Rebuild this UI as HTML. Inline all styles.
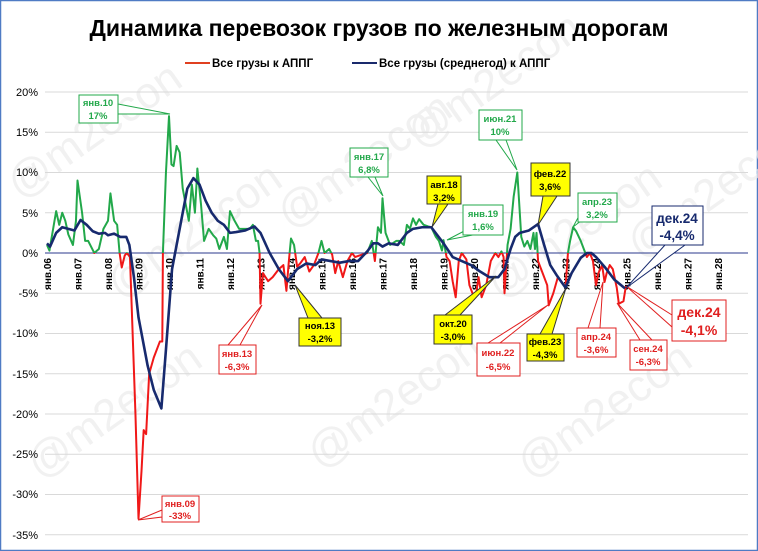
<!DOCTYPE html>
<html><head><meta charset="utf-8"><style>
html,body{margin:0;padding:0;background:#fff}
svg{display:block;font-family:"Liberation Sans",sans-serif}
</style></head><body>
<svg width="758" height="551" viewBox="0 0 758 551" xmlns="http://www.w3.org/2000/svg">
<rect x="0.5" y="0.5" width="757" height="550" fill="#fff" stroke="#4f7bc4" stroke-width="1.5"/>
<g fill="#ececec" font-size="44" opacity="0.75">
<text transform="translate(20,200) rotate(-35)">@m2econ</text>
<text transform="translate(120,300) rotate(-35)">@m2econ</text>
<text transform="translate(290,230) rotate(-35)">@m2econ</text>
<text transform="translate(420,150) rotate(-35)">@m2econ</text>
<text transform="translate(40,480) rotate(-35)">@m2econ</text>
<text transform="translate(320,470) rotate(-35)">@m2econ</text>
<text transform="translate(530,480) rotate(-35)">@m2econ</text>
<text transform="translate(500,300) rotate(-35)">@m2econ</text>
<text transform="translate(640,260) rotate(-35)">@m2econ</text>
</g>
<text x="379" y="36" text-anchor="middle" font-size="23" font-weight="bold" fill="#000">Динамика перевозок грузов по железным дорогам</text>
<line x1="185" y1="63" x2="210" y2="63" stroke="#e04020" stroke-width="2"/>
<text x="212" y="67" font-size="11.5" font-weight="bold">Все грузы к АППГ</text>
<line x1="352" y1="63" x2="377" y2="63" stroke="#1a2a6c" stroke-width="2"/>
<text x="379" y="67" font-size="11.5" font-weight="bold">Все грузы (среднегод) к АППГ</text>
<g stroke="#d9d9d9" stroke-width="1">
<line x1="45" y1="92" x2="748" y2="92"/><line x1="45" y1="132.25" x2="748" y2="132.25"/>
<line x1="45" y1="172.5" x2="748" y2="172.5"/><line x1="45" y1="212.75" x2="748" y2="212.75"/>
<line x1="45" y1="293.25" x2="748" y2="293.25"/><line x1="45" y1="333.5" x2="748" y2="333.5"/>
<line x1="45" y1="373.75" x2="748" y2="373.75"/><line x1="45" y1="414" x2="748" y2="414"/>
<line x1="45" y1="454.25" x2="748" y2="454.25"/><line x1="45" y1="494.5" x2="748" y2="494.5"/>
<line x1="45" y1="534.75" x2="748" y2="534.75"/>
</g>
<g font-size="11" text-anchor="end" fill="#000">
<text x="38" y="96">20%</text><text x="38" y="136">15%</text><text x="38" y="176">10%</text>
<text x="38" y="217">5%</text><text x="38" y="257">0%</text><text x="38" y="297">-5%</text>
<text x="38" y="337">-10%</text><text x="38" y="378">-15%</text><text x="38" y="418">-20%</text>
<text x="38" y="458">-25%</text><text x="38" y="498">-30%</text><text x="38" y="539">-35%</text>
</g>
<line x1="45" y1="253" x2="748" y2="253" stroke="#2b3a8c" stroke-width="1"/>
<g font-size="10" font-weight="bold" fill="#000" text-anchor="end">
<text transform="translate(51,258) rotate(-90)">янв.06</text>
<text transform="translate(81.5,258) rotate(-90)">янв.07</text>
<text transform="translate(112,258) rotate(-90)">янв.08</text>
<text transform="translate(142.5,258) rotate(-90)">янв.09</text>
<text transform="translate(173,258) rotate(-90)">янв.10</text>
<text transform="translate(203.5,258) rotate(-90)">янв.11</text>
<text transform="translate(234,258) rotate(-90)">янв.12</text>
<text transform="translate(264.5,258) rotate(-90)">янв.13</text>
<text transform="translate(295,258) rotate(-90)">янв.14</text>
<text transform="translate(325.5,258) rotate(-90)">янв.15</text>
<text transform="translate(356,258) rotate(-90)">янв.16</text>
<text transform="translate(386.5,258) rotate(-90)">янв.17</text>
<text transform="translate(417,258) rotate(-90)">янв.18</text>
<text transform="translate(447.5,258) rotate(-90)">янв.19</text>
<text transform="translate(478,258) rotate(-90)">янв.20</text>
<text transform="translate(508.5,258) rotate(-90)">янв.21</text>
<text transform="translate(539,258) rotate(-90)">янв.22</text>
<text transform="translate(569.5,258) rotate(-90)">янв.23</text>
<text transform="translate(600,258) rotate(-90)">янв.24</text>
<text transform="translate(630.5,258) rotate(-90)">янв.25</text>
<text transform="translate(661,258) rotate(-90)">янв.26</text>
<text transform="translate(691.5,258) rotate(-90)">янв.27</text>
<text transform="translate(722,258) rotate(-90)">янв.28</text>
</g>
<defs>
<clipPath id="up"><rect x="-1" y="0" width="30" height="30"/></clipPath>
<clipPath id="dn"><rect x="-1" y="-40" width="30" height="40"/></clipPath>
</defs>
<g transform="translate(47,253) scale(30.5,-8.05)" fill="none" stroke-linejoin="round">
<g id="ser">
<polyline id="p" vector-effect="non-scaling-stroke" stroke-width="2" points="0,1 0.08,0.3 0.3,5.2 0.4,3.5 0.5,5 0.6,4 0.7,2.3 0.85,1 0.95,4 1,9 1.15,5 1.25,1.5 1.35,1.5 1.55,0 1.7,0.5 1.85,3 2,4 2.08,7.4 2.2,4 2.3,3.5 2.38,0 2.45,-1.8 2.55,-0.3 2.62,0 2.72,-0.5 2.9,-20 3,-33 3.1,-27 3.17,-22 3.25,-22.5 3.35,-15 3.5,-13 3.7,-11 3.78,-11 3.8,0 3.9,10 4,17 4.08,11 4.15,10.8 4.25,13.3 4.35,12.5 4.45,8 4.55,6 4.65,4 4.75,8.5 4.85,5 4.93,10.5 5.05,6 5.15,1.5 5.3,3 5.45,2.2 5.55,1.8 5.65,0.5 5.8,2 5.9,0.5 6,5.2 6.15,4 6.3,3 6.5,3 6.65,3 6.75,3.5 6.85,1.5 6.92,1.5 6.97,0 7,-6.3 7.08,-2.5 7.25,-3.5 7.4,-3 7.6,-2 7.75,-1.5 7.85,-4.7 7.93,-1 8,1.8 8.1,1 8.2,-1.7 8.3,-1.3 8.45,-0.5 8.6,-2.3 8.75,-1.5 8.9,0 9,1.5 9.1,0 9.25,0.5 9.35,-0.2 9.45,-2.5 9.55,-1 9.7,-3 9.85,-1 10,0 10.1,-0.5 10.25,-0.3 10.5,0 10.65,1.5 10.75,-1 10.85,3.2 10.95,2.5 11,6.8 11.1,2.5 11.25,1 11.45,1.5 11.55,1.5 11.7,1 11.8,3.5 11.9,3 12,4.3 12.1,3.5 12.2,4.2 12.35,3.5 12.5,3.3 12.6,3.2 12.75,2 12.85,1.5 12.95,0.3 13,1.6 13.1,-0.5 13.2,-1 13.3,-3.5 13.4,-5.5 13.5,-1 13.6,0 13.75,-0.8 13.85,-4 13.95,-5 14.05,-5.5 14.15,-3 14.25,-5.5 14.4,-4 14.55,-1 14.7,0 14.8,-0.5 14.9,0.2 14.97,-0.5 15,-5 15.1,1 15.2,3 15.3,7 15.42,10 15.55,2 15.65,0.8 15.75,1.5 15.85,0.5 15.95,2.5 16,0.5 16.05,2.5 16.1,-1 16.25,-2.5 16.4,-4 16.45,-6.5 16.6,-5 16.75,-3 16.85,-3.5 17,-4.3 17.08,0 17.15,1.5 17.25,3.2 17.35,2.7 17.5,1.5 17.6,0.5 17.7,-0.5 17.8,0 17.9,-1 18,-4 18.08,-2.5 18.2,-1.5 18.28,-3.6 18.35,-2.5 18.45,-1.5 18.55,-2 18.68,-4.3 18.75,-6.3 18.9,-6 18.98,-4.1"/>
</g>
<use href="#p" stroke="#22a84a" clip-path="url(#up)"/>
<use href="#p" stroke="#f01818" clip-path="url(#dn)"/>
<polyline vector-effect="non-scaling-stroke" stroke="#172a6e" stroke-width="2.6" points="0,1.2 0.1,0.8 0.3,2.5 0.5,3.2 0.7,3 0.9,2.8 1.1,4.1 1.3,3.5 1.5,2.7 1.7,2.4 1.9,2.5 2,2.2 2.2,2.4 2.4,2 2.6,2 2.7,1 2.85,-3 3,-8 3.3,-14 3.5,-17 3.75,-19.3 3.9,-12 4.1,-2 4.4,4 4.6,8 4.8,9.3 5,8.5 5.2,6.5 5.4,5 5.6,4 5.8,3.5 6,2.5 6.2,2.6 6.5,2.8 6.8,3.3 7,2.5 7.3,0 7.6,-2 7.9,-3.5 8.2,-2 8.5,-1.3 8.8,-1.5 9,-0.8 9.3,-1 9.6,-1.2 9.9,-1 10.2,-1 10.5,0.2 10.7,1.2 10.85,1.2 11,0.8 11.2,1.2 11.5,1 11.8,2.5 12,3 12.3,3.2 12.6,3.2 12.8,2.2 13,1.2 13.3,-0.5 13.6,-1 13.9,-1.5 14.2,-2.3 14.5,-3 14.8,-3 15,-2 15.2,0.5 15.35,2 15.5,2.5 15.8,2.8 16.1,3.6 16.3,1 16.5,-1.5 16.7,-2.7 17,-4.3 17.2,-2.5 17.5,-0.6 17.7,0 17.85,0 18,-0.5 18.3,-1.8 18.6,-3.3 18.95,-4.4"/>
</g>
<g font-size="9.5" font-weight="bold" text-anchor="middle">
<g stroke="#22a84a" fill="#fff"><path d="M118,104 L170,114 L118,114Z"/><rect x="79" y="95" width="39" height="28"/></g>
<g fill="#22a84a"><text x="98" y="106">янв.10</text><text x="98" y="119">17%</text></g>
<g stroke="#22a84a" fill="#fff"><path d="M375,177 L383,196 L368,177Z"/><rect x="350" y="148" width="38" height="29"/></g>
<g fill="#22a84a"><text x="369" y="160">янв.17</text><text x="369" y="173">6,8%</text></g>
<g stroke="#22a84a" fill="#fff"><path d="M470,228 L447,240 L478,234Z"/><rect x="463" y="205" width="40" height="30"/></g>
<g fill="#22a84a"><text x="483" y="217">янв.19</text><text x="483" y="230">1,6%</text></g>
<g stroke="#22a84a" fill="#fff"><path d="M506,140 L517,170 L496,140Z"/><rect x="479" y="110" width="43" height="30"/></g>
<g fill="#22a84a"><text x="500" y="122">июн.21</text><text x="500" y="135">10%</text></g>
<g stroke="#22a84a" fill="#fff"><path d="M580,214 L573,227 L590,214Z"/><rect x="578" y="193" width="39" height="29"/></g>
<g fill="#22a84a"><text x="597" y="205">апр.23</text><text x="597" y="218">3,2%</text></g>
<g stroke="#333" fill="#ffff00"><path d="M438,204 L432,227 L448,204Z"/><rect x="427" y="176" width="34" height="28"/></g>
<g fill="#000"><text x="444" y="188">авг.18</text><text x="444" y="201">3,2%</text></g>
<g stroke="#333" fill="#ffff00"><path d="M543,196 L538,225 L557,196Z"/><rect x="531" y="163" width="39" height="33"/></g>
<g fill="#000"><text x="550" y="177">фев.22</text><text x="550" y="190">3,6%</text></g>
<g stroke="#333" fill="#ffff00"><path d="M308,318 L295,285 L322,318Z"/><rect x="299" y="318" width="42" height="28"/></g>
<g fill="#000"><text x="320" y="329">ноя.13</text><text x="320" y="342">-3,2%</text></g>
<g stroke="#333" fill="#ffff00"><path d="M445,315 L496,276 L460,315Z"/><rect x="434" y="315" width="38" height="29"/></g>
<g fill="#000"><text x="453" y="327">окт.20</text><text x="453" y="340">-3,0%</text></g>
<g stroke="#333" fill="#ffff00"><path d="M540,334 L566,288 L552,334Z"/><rect x="527" y="334" width="37" height="27"/></g>
<g fill="#000"><text x="545" y="345">фев.23</text><text x="545" y="358">-4,3%</text></g>
<g stroke="#e02020" fill="#fff"><path d="M228,345 L262,305 L240,345Z"/><rect x="219" y="345" width="37" height="29"/></g>
<g fill="#e02020"><text x="237" y="357">янв.13</text><text x="237" y="370">-6,3%</text></g>
<g stroke="#e02020" fill="#fff"><path d="M162,510 L138,520 L162,517Z"/><rect x="162" y="496" width="37" height="26"/></g>
<g fill="#e02020"><text x="180" y="507">янв.09</text><text x="180" y="519">-33%</text></g>
<g stroke="#e02020" fill="#fff"><path d="M488,343 L548,305 L500,343Z"/><rect x="477" y="343" width="43" height="33"/></g>
<g fill="#e02020"><text x="498" y="356">июн.22</text><text x="498" y="370">-6,5%</text></g>
<g stroke="#e02020" fill="#fff"><path d="M588,328 L603,282 L600,328Z"/><rect x="577" y="328" width="39" height="29"/></g>
<g fill="#e02020"><text x="596" y="340">апр.24</text><text x="596" y="353">-3,6%</text></g>
<g stroke="#e02020" fill="#fff"><path d="M640,340 L617,303 L652,340Z"/><rect x="630" y="340" width="37" height="30"/></g>
<g fill="#e02020"><text x="648" y="352">сен.24</text><text x="648" y="365">-6,3%</text></g>
<g stroke="#e02020" fill="#fff"><path d="M672,315 L626,286 L672,327Z"/><rect x="672" y="300" width="54" height="41"/></g>
<g fill="#e02020" font-size="14"><text x="699" y="317">дек.24</text><text x="699" y="335">-4,1%</text></g>
<g stroke="#172a6e" fill="#fff"><path d="M665,245 L626,288 L685,245Z"/><rect x="652" y="206" width="51" height="39"/></g>
<g fill="#172a6e" font-size="13.5"><text x="677" y="223">дек.24</text><text x="677" y="240">-4,4%</text></g>
</g>
</svg>
</body></html>
